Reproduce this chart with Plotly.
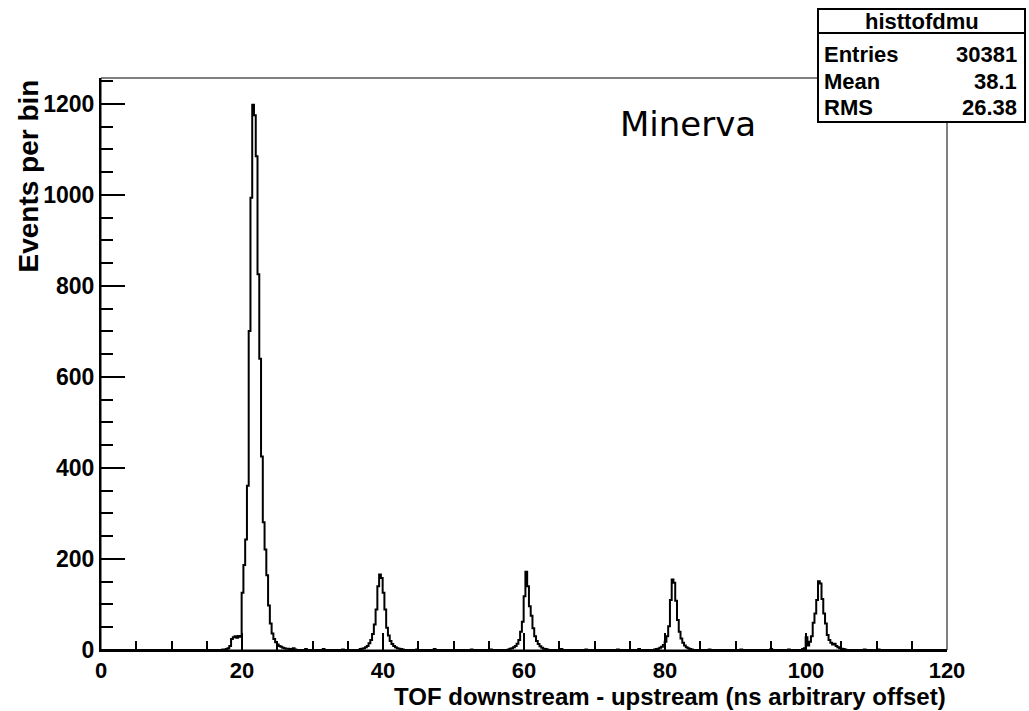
import numpy as np
import plotly.graph_objects as go

# ---------------- data ----------------
bin_width = 0.25
first_edge = 0.2
n_bins = 479

main_peak_start = 17.2
main_peak_counts = [1, 0, 2, 4, 9, 24, 28, 30, 27, 31, 29, 126, 187, 243, 361, 701, 994,
                    1198, 1175, 1085, 826, 640, 425, 281, 221, 164, 98, 58, 36, 24, 17,
                    12, 9, 7, 5, 4, 3, 3, 2, 2, 1, 1]

peak40_start = 36.7
peak40_counts = [2, 3, 4, 6, 9, 15, 22, 35, 56, 89, 140, 166, 158, 126, 89, 49, 32, 20,
                 13, 9, 6, 4, 3, 2, 1]

peak60_start = 57.7
peak60_counts = [1, 3, 4, 6, 9, 14, 22, 40, 62, 118, 172, 140, 96, 75, 48, 30, 20, 13, 8,
                 5, 3, 2, 1]

peak80_start = 78.45
peak80_counts = [1, 2, 3, 5, 7, 11, 18, 30, 52, 110, 155, 148, 108, 66, 40, 25, 16, 10, 6,
                 4, 2, 1]

peak100_start = 99.45
peak100_counts = [2, 4, 28, 10, 18, 30, 60, 80, 110, 151, 146, 112, 80, 58, 33, 22, 16,
                  12, 14, 9, 6, 4, 3, 2, 1]

background_x = [27.3, 29.1, 31.6, 34.2, 44.8, 47.3, 52.6, 55.4, 65.2, 68.9, 73.4, 76.2,
                86.3, 90.7, 95.1, 97.6, 108.2, 110.4]
background_counts = [3, 2, 2, 1, 1, 2, 1, 1, 2, 1, 1, 2, 1, 1, 2, 1, 1, 1]

x_range = [0, 120]
y_range = [0, 1257]

stats_title = "histtofdmu"
stats_names = ["Entries", "Mean", "RMS"]
stats_values = ["30381", "38.1", "26.38"]

x_title = "TOF downstream - upstream (ns arbitrary offset)"
y_title = "Events per bin"
label_text = "Minerva"

# ---------------- histogram build ----------------
edges = first_edge + bin_width * np.arange(n_bins + 1)
counts = np.zeros(n_bins)


def put(start, vals):
    i0 = int(round((start - first_edge) / bin_width))
    counts[i0:i0 + len(vals)] += np.array(vals, dtype=float)


put(main_peak_start, main_peak_counts)
put(peak40_start, peak40_counts)
put(peak60_start, peak60_counts)
put(peak80_start, peak80_counts)
put(peak100_start, peak100_counts)
for bx, bc in zip(background_x, background_counts):
    counts[int((bx - first_edge) // bin_width)] += bc

xs = np.concatenate([[x_range[0]], edges])
ys = np.concatenate([[0], counts, [0]])

# ---------------- figure ----------------
W, H = 1029, 711
L, R, T, B = 101, 82, 78, 61
pw, ph = W - L - R, H - T - B


def px2x(px):
    return (px - L) / pw


def py2y(py):
    return (H - B - py) / ph


fig = go.Figure()
fig.add_trace(go.Scatter(x=xs, y=ys, mode="lines", line=dict(color="black", width=2, shape="hv"),
                         hoverinfo="skip"))

axis_font = dict(family="Liberation Sans", color="black", weight="bold")

fig.update_layout(
    width=W, height=H,
    margin=dict(l=L, r=R, t=T, b=B),
    paper_bgcolor="white", plot_bgcolor="white",
    showlegend=False,
    xaxis=dict(range=x_range, tickmode="linear", tick0=0, dtick=20,
               ticks="inside", ticklen=17, tickwidth=2, tickcolor="black",
               showline=True, linewidth=2, linecolor="black",
               showgrid=False, zeroline=False,
               minor=dict(ticks="inside", dtick=5, tick0=0, ticklen=9, tickwidth=2,
                          tickcolor="black", showgrid=False),
               tickfont=dict(size=22, **axis_font)),
    yaxis=dict(range=y_range, tickmode="linear", tick0=0, dtick=200,
               ticks="inside", ticklen=24, tickwidth=2, tickcolor="black",
               showline=True, linewidth=2, linecolor="black",
               showgrid=False, zeroline=False,
               minor=dict(ticks="inside", dtick=50, tick0=0, ticklen=12, tickwidth=2,
                          tickcolor="black", showgrid=False),
               tickfont=dict(size=23, **axis_font)),
)

# frame (thin)
fig.add_shape(type="rect", xref="paper", yref="paper", x0=0, x1=1, y0=0, y1=1,
              line=dict(color="black", width=1), fillcolor="rgba(0,0,0,0)", layer="above")

# stats box
bx0, bx1 = px2x(818), px2x(1025)
by0, by1 = py2y(122), py2y(9)
fig.add_shape(type="rect", xref="paper", yref="paper", x0=bx0, x1=bx1, y0=by0, y1=by1,
              line=dict(color="black", width=2), fillcolor="white", layer="above")
fig.add_shape(type="line", xref="paper", yref="paper", x0=bx0, x1=bx1, y0=py2y(33), y1=py2y(33),
              line=dict(color="black", width=2), layer="above")

stat_font = dict(family="Liberation Sans", size=22, color="black", weight="bold")
fig.add_annotation(text=stats_title, xref="paper", yref="paper", x=(bx0 + bx1) / 2, y=py2y(22),
                   xanchor="center", yanchor="middle", showarrow=False, font=stat_font)
row_y = [54, 82, 107]
for name, val, ry in zip(stats_names, stats_values, row_y):
    fig.add_annotation(text=name, xref="paper", yref="paper", x=px2x(822), y=py2y(ry),
                       xanchor="left", yanchor="middle", showarrow=False, font=stat_font)
    fig.add_annotation(text=val, xref="paper", yref="paper", x=px2x(1019), y=py2y(ry),
                       xanchor="right", yanchor="middle", showarrow=False, font=stat_font)

# axis titles
fig.add_annotation(text=x_title, xref="paper", yref="paper", x=1, y=py2y(711),
                   xanchor="right", yanchor="bottom", showarrow=False, borderpad=0,
                   font=dict(family="Liberation Sans", size=24, color="black", weight="bold"))
fig.add_annotation(text=y_title, xref="paper", yref="paper", x=px2x(28), y=1,
                   xanchor="center", yanchor="top", textangle=-90, showarrow=False,
                   font=dict(family="Liberation Sans", size=28, color="black", weight="bold"))

# label
fig.add_annotation(text=label_text, xref="paper", yref="paper", x=px2x(618), y=py2y(124),
                   xanchor="left", yanchor="middle", showarrow=False,
                   font=dict(family="DejaVu Sans", size=34, color="black"))

fig.write_html("out.html")
